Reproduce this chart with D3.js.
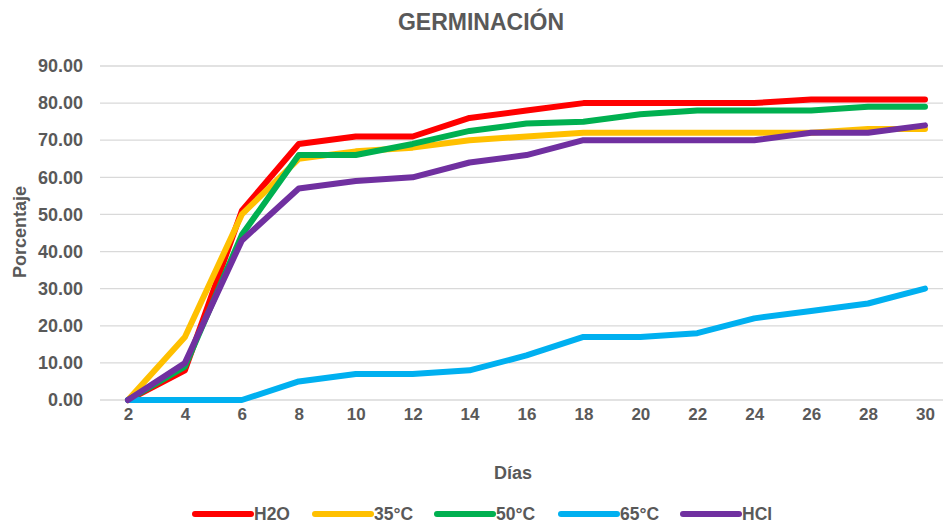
<!DOCTYPE html>
<html>
<head>
<meta charset="utf-8">
<script src="https://cdn.jsdelivr.net/npm/d3@7"></script>
<style>
  html, body { margin: 0; padding: 0; background: #fff; }
  svg { display: block; font-family: "Liberation Sans", Arial, sans-serif; }
</style>
</head>
<body>
<svg id="chart" width="943" height="525"></svg>
<script>
const days = ["2","4","6","8","10","12","14","16","18","20","22","24","26","28","30"];
const h2o  = [0, 8, 51, 69, 71, 71, 76, 78, 80, 80, 80, 80, 81, 81, 81];
const t35  = [0, 17, 50, 65, 67, 68, 70, 71, 72, 72, 72, 72, 72, 73, 73];
const t50  = [0, 9, 44.5, 66, 66, 69, 72.5, 74.5, 75, 77, 78, 78, 78, 79, 79];
const t65  = [0, 0, 0, 5, 7, 7, 8, 12, 17, 17, 18, 22, 24, 26, 30];
const hcl  = [0, 10, 43, 57, 59, 60, 64, 66, 70, 70, 70, 70, 72, 72, 74];
const seriesNames = ["H2O", "35°C", "50°C", "65°C", "HCl"];
const seriesColors = ["#ff0000", "#ffc000", "#00b050", "#00b0f0", "#7030a0"];
const yTicks = [0, 10, 20, 30, 40, 50, 60, 70, 80, 90];

const series = [h2o, t35, t50, t65, hcl].map((v, i) => ({ name: seriesNames[i], color: seriesColors[i], values: v }));

const svg = d3.select("#chart");
const textColor = "#595959";

const x = d3.scalePoint().domain(days).range([128, 925]);
const y = d3.scaleLinear().domain([0, 90]).range([400, 66]);

// gridlines
svg.append("g").selectAll("line").data(yTicks).join("line")
  .attr("x1", 100).attr("x2", 943)
  .attr("y1", d => y(d)).attr("y2", d => y(d))
  .attr("stroke", "#d9d9d9").attr("stroke-width", 1.3);

// y axis labels
const yAxis = d3.axisLeft(y).tickValues(yTicks).tickFormat(d3.format(".2f")).tickSize(0).tickPadding(0);
const gy = svg.append("g").attr("transform", "translate(83,0)").call(yAxis);
gy.select(".domain").remove();
gy.selectAll("text").attr("fill", textColor).attr("font-size", 18).attr("font-weight", "bold")
  .attr("font-family", "'Liberation Sans', Arial, sans-serif");

// x axis labels
const xAxis = d3.axisBottom(x).tickSize(0).tickPadding(0);
const gx = svg.append("g").attr("transform", "translate(0,408)").call(xAxis);
gx.select(".domain").remove();
gx.selectAll("text").attr("fill", textColor).attr("font-size", 17).attr("font-weight", "bold")
  .attr("font-family", "'Liberation Sans', Arial, sans-serif");

// lines
const line = d3.line().x((d, i) => x(days[i])).y(d => y(d));
svg.append("g").selectAll("path").data(series).join("path")
  .attr("d", d => line(d.values))
  .attr("fill", "none")
  .attr("stroke", d => d.color)
  .attr("stroke-width", 6)
  .attr("stroke-linejoin", "round")
  .attr("stroke-linecap", "round");

// title
svg.append("text").attr("x", 481).attr("y", 30).attr("text-anchor", "middle")
  .attr("fill", textColor).attr("font-size", 23).attr("font-weight", "bold")
  .text("GERMINACIÓN");

// axis titles
svg.append("text").attr("x", 513).attr("y", 479).attr("text-anchor", "middle")
  .attr("fill", textColor).attr("font-size", 18).attr("font-weight", "bold")
  .text("Días");
svg.append("text").attr("transform", "translate(26,232) rotate(-90)").attr("text-anchor", "middle")
  .attr("fill", textColor).attr("font-size", 18).attr("font-weight", "bold")
  .text("Porcentaje");

// legend
const legendX = [195, 315, 437, 561, 683];
const lg = svg.append("g").selectAll("g").data(series).join("g")
  .attr("transform", (d, i) => `translate(${legendX[i]},514)`);
lg.append("line").attr("x1", 0).attr("x2", 56).attr("y1", 0).attr("y2", 0)
  .attr("stroke", d => d.color).attr("stroke-width", 6).attr("stroke-linecap", "round");
lg.append("text").attr("x", 59).attr("y", 6.2)
  .attr("fill", textColor).attr("font-size", 17.5).attr("font-weight", "bold")
  .text(d => d.name);
</script>
</body>
</html>
